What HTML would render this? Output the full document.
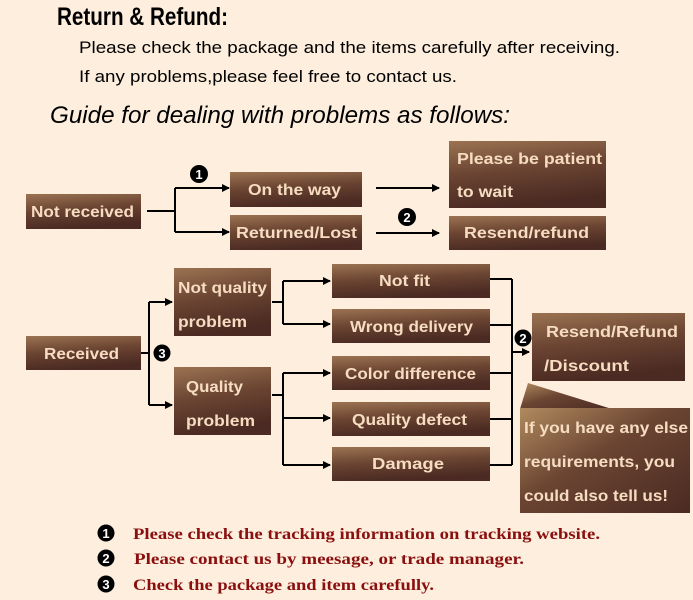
<!DOCTYPE html>
<html><head><meta charset="utf-8"><style>
html,body{margin:0;padding:0;background:#fdeedd;}
svg{display:block;}
.b{font-family:"Liberation Sans",sans-serif;font-weight:bold;font-size:16px;fill:#f6dcc0;}
.l{stroke:#000;stroke-width:2;fill:none;}
.lg{font-family:"Liberation Serif",serif;font-weight:bold;font-size:16px;fill:#8a1010;}
.n{font-family:"Liberation Sans",sans-serif;font-weight:bold;font-size:13px;fill:#fff;text-anchor:middle;}
</style></head><body>
<svg width="693" height="600" viewBox="0 0 693 600" xmlns="http://www.w3.org/2000/svg">
<defs>
<linearGradient id="g" x1="0" y1="0" x2="0.25" y2="1">
<stop offset="0" stop-color="#9b7352"/><stop offset="0.5" stop-color="#6b4432"/><stop offset="1" stop-color="#4a2a22"/>
</linearGradient>
<linearGradient id="g2" x1="0" y1="0" x2="1" y2="1">
<stop offset="0" stop-color="#b08a5e"/><stop offset="0.45" stop-color="#6b4432"/><stop offset="1" stop-color="#4a2a22"/>
</linearGradient>
<marker id="a" markerWidth="8" markerHeight="8" refX="7" refY="4" orient="auto" markerUnits="userSpaceOnUse"><path d="M0,0 L8,4 L0,8 z" fill="#000"/></marker>
</defs>
<rect width="693" height="600" fill="#fdeedd"/>
<text x="57" y="25" font-family="Liberation Sans Narrow,Liberation Sans,sans-serif" font-weight="bold" font-size="25" textLength="171" lengthAdjust="spacingAndGlyphs">Return &amp; Refund:</text>
<text x="79" y="53" font-family="Liberation Sans Narrow,Liberation Sans,sans-serif" font-size="17" textLength="541" lengthAdjust="spacingAndGlyphs">Please check the package and the items carefully after receiving.</text>
<text x="79" y="82" font-family="Liberation Sans Narrow,Liberation Sans,sans-serif" font-size="17" textLength="378" lengthAdjust="spacingAndGlyphs">If any problems,please feel free to contact us.</text>
<text x="50" y="123" font-family="Liberation Sans Narrow,Liberation Sans,sans-serif" font-style="italic" font-size="24" textLength="460" lengthAdjust="spacingAndGlyphs">Guide for dealing with problems as follows:</text>

<!-- Not received -->
<rect x="26" y="194" width="115" height="35" fill="url(#g)"/>
<text class="b" x="31" y="217" textLength="103" lengthAdjust="spacingAndGlyphs">Not received</text>
<path class="l" d="M147,211 H175 M175,188 V232 M175,188 H227 M175,232 H227" />
<path class="l" d="M175,188 H229" marker-end="url(#a)"/>
<path class="l" d="M175,232 H229" marker-end="url(#a)"/>
<circle cx="199" cy="174" r="9"/><text class="n" x="199" y="179">1</text>
<rect x="230" y="172" width="132" height="35" fill="url(#g)"/>
<text class="b" x="248" y="195" textLength="93" lengthAdjust="spacingAndGlyphs">On the way</text>
<rect x="230" y="215" width="132" height="35" fill="url(#g)"/>
<text class="b" x="236" y="238" textLength="121" lengthAdjust="spacingAndGlyphs">Returned/Lost</text>
<path class="l" d="M376,188 H439" marker-end="url(#a)"/>
<path class="l" d="M376,233 H439" marker-end="url(#a)"/>
<circle cx="407" cy="217" r="9"/><text class="n" x="407" y="222">2</text>
<rect x="449" y="141" width="157" height="67" fill="url(#g)"/>
<text class="b" x="457" y="164" textLength="145" lengthAdjust="spacingAndGlyphs">Please be patient</text>
<text class="b" x="457" y="197" textLength="56" lengthAdjust="spacingAndGlyphs">to wait</text>
<rect x="449" y="216" width="157" height="34" fill="url(#g)"/>
<text class="b" x="464" y="238" textLength="125" lengthAdjust="spacingAndGlyphs">Resend/refund</text>

<!-- Received -->
<rect x="26" y="336" width="115" height="34" fill="url(#g)"/>
<text class="b" x="44" y="359" textLength="75" lengthAdjust="spacingAndGlyphs">Received</text>
<path class="l" d="M141,353 H149 M149,302 V405"/>
<path class="l" d="M149,302 H172" marker-end="url(#a)"/>
<path class="l" d="M149,405 H172" marker-end="url(#a)"/>
<circle cx="162" cy="353" r="8.5"/><text class="n" x="162" y="358">3</text>
<rect x="174" y="268" width="97" height="68" fill="url(#g)"/>
<text class="b" x="178" y="293" textLength="89" lengthAdjust="spacingAndGlyphs">Not quality</text>
<text class="b" x="178" y="327" textLength="69" lengthAdjust="spacingAndGlyphs">problem</text>
<rect x="174" y="367" width="97" height="68" fill="url(#g)"/>
<text class="b" x="186" y="392" textLength="57" lengthAdjust="spacingAndGlyphs">Quality</text>
<text class="b" x="186" y="426" textLength="69" lengthAdjust="spacingAndGlyphs">problem</text>
<path class="l" d="M272,302 H283 M283,281 V324"/>
<path class="l" d="M283,281 H330" marker-end="url(#a)"/>
<path class="l" d="M283,324 H330" marker-end="url(#a)"/>
<path class="l" d="M272,395 H283 M283,373 V465"/>
<path class="l" d="M283,373 H330" marker-end="url(#a)"/>
<path class="l" d="M283,418 H330" marker-end="url(#a)"/>
<path class="l" d="M283,465 H330" marker-end="url(#a)"/>

<rect x="332" y="264" width="158" height="34" fill="url(#g)"/>
<text class="b" x="379" y="286" textLength="51" lengthAdjust="spacingAndGlyphs">Not fit</text>
<rect x="332" y="309" width="158" height="34" fill="url(#g)"/>
<text class="b" x="350" y="332" textLength="123" lengthAdjust="spacingAndGlyphs">Wrong delivery</text>
<rect x="332" y="356" width="158" height="34" fill="url(#g)"/>
<text class="b" x="345" y="379" textLength="131" lengthAdjust="spacingAndGlyphs">Color difference</text>
<rect x="332" y="402" width="158" height="34" fill="url(#g)"/>
<text class="b" x="352" y="425" textLength="115" lengthAdjust="spacingAndGlyphs">Quality defect</text>
<rect x="332" y="447" width="158" height="34" fill="url(#g)"/>
<text class="b" x="372" y="469" textLength="72" lengthAdjust="spacingAndGlyphs">Damage</text>

<path class="l" d="M490,279 H512 M490,325 H512 M490,373 H512 M490,419 H512 M490,465 H512 M512,279 V465"/>
<path class="l" d="M512,352 H529" marker-end="url(#a)"/>
<circle cx="523" cy="338" r="8.5"/><text class="n" x="523" y="343">2</text>

<rect x="532" y="313" width="153" height="68" fill="url(#g)"/>
<text class="b" x="546" y="337" textLength="132" lengthAdjust="spacingAndGlyphs">Resend/Refund</text>
<text class="b" x="544" y="371" textLength="85" lengthAdjust="spacingAndGlyphs">/Discount</text>

<path d="M528,383 L612,409 L520,409 z" fill="url(#g2)"/>
<rect x="520" y="408" width="170" height="105" fill="url(#g2)"/>
<text class="b" x="524" y="433" textLength="164" lengthAdjust="spacingAndGlyphs">If you have any else</text>
<text class="b" x="524" y="467" textLength="151" lengthAdjust="spacingAndGlyphs">requirements, you</text>
<text class="b" x="524" y="501" textLength="144" lengthAdjust="spacingAndGlyphs">could also tell us!</text>

<!-- legend -->
<circle cx="106" cy="533" r="8.5"/><text class="n" x="106" y="538">1</text>
<circle cx="106" cy="558" r="8.5"/><text class="n" x="106" y="563">2</text>
<circle cx="106" cy="584" r="8.5"/><text class="n" x="106" y="589">3</text>
<text class="lg" x="133" y="539" textLength="467" lengthAdjust="spacingAndGlyphs">Please check the tracking information on tracking website.</text>
<text class="lg" x="134" y="564" textLength="390" lengthAdjust="spacingAndGlyphs">Please contact us by meesage, or trade manager.</text>
<text class="lg" x="133" y="590" textLength="301" lengthAdjust="spacingAndGlyphs">Check the package and item carefully.</text>
</svg>
</body></html>
